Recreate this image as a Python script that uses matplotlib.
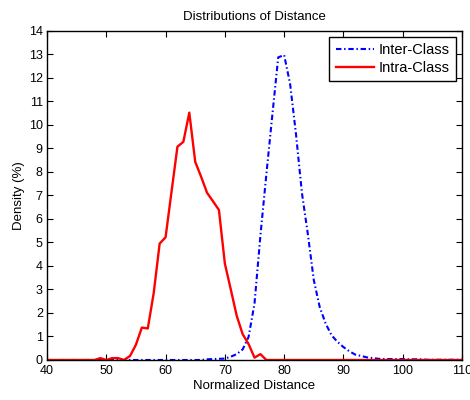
import numpy as np
import matplotlib.pyplot as plt

plt.rcParams['font.family'] = ['Liberation Sans', 'DejaVu Sans']

# normalized distance bins
dist = list(range(40, 111))

# inter-class density (%)
inter = [0] * 27 + [  # 40..66
    0.03, 0.04, 0.05, 0.06, 0.14, 0.25, 0.45, 0.98, 2.4, 5.3,   # 67..76
    7.9, 10.4, 12.87, 12.97, 11.75, 9.6, 7.1, 5.35, 3.4, 2.25,   # 77..86
    1.55, 1.05, 0.77, 0.55, 0.37, 0.23, 0.17, 0.11, 0.08, 0.05,  # 87..96
    0.04, 0.04, 0.04, 0.04, 0.03, 0.03, 0.03, 0.01, 0.01, 0.01,  # 97..106
    0.01, 0.01, 0.01, 0.01]                                      # 107..110

# intra-class density (%)
intra = [0] * 9 + [  # 40..48
    0.08, 0.0, 0.08, 0.08, 0.0, 0.17, 0.65, 1.38, 1.34, 2.85,    # 49..58
    4.95, 5.22, 7.15, 9.07, 9.28, 10.52, 8.43, 7.79, 7.11, 6.75, # 59..68
    6.38, 4.1, 3.0, 1.88, 1.1, 0.68, 0.1, 0.25, 0.0] + [0] * 33  # 69..110

fig = plt.figure(figsize=(4.7, 4.0), dpi=100)
ax = fig.add_axes([0.1, 0.1, 0.883, 0.823])

ax.plot(dist, inter, color='blue', linestyle=(0, (2.6, 1.3, 0.7, 1.3)), linewidth=1.5,
        label='Inter-Class')
ax.plot(dist, intra, color='red', linestyle='-', linewidth=1.7, label='Intra-Class')

ax.set_xlim(40, 110)
ax.set_ylim(0, 14)
ax.set_xticks(range(40, 111, 10))
ax.set_yticks(range(0, 15))
ax.tick_params(direction='in', top=True, right=True, length=4, labelsize=9)
ax.tick_params(axis='x', pad=3.5)
ax.tick_params(axis='y', pad=3)
for s in ax.spines.values():
    s.set_linewidth(1.0)

ax.set_title('Distributions of Distance', fontsize=9.5, pad=8)
ax.set_xlabel('Normalized Distance', fontsize=9.5, labelpad=2)
ax.set_ylabel('Density (%)', fontsize=9.5, labelpad=3)

leg = ax.legend(loc='upper right', fontsize=10.5, fancybox=False, framealpha=1,
                edgecolor='black', handlelength=2.6, borderaxespad=0.4,
                borderpad=0.45, labelspacing=0.25, handletextpad=0.35)
leg.get_frame().set_linewidth(1.0)

fig.savefig('out.png', dpi=100)
